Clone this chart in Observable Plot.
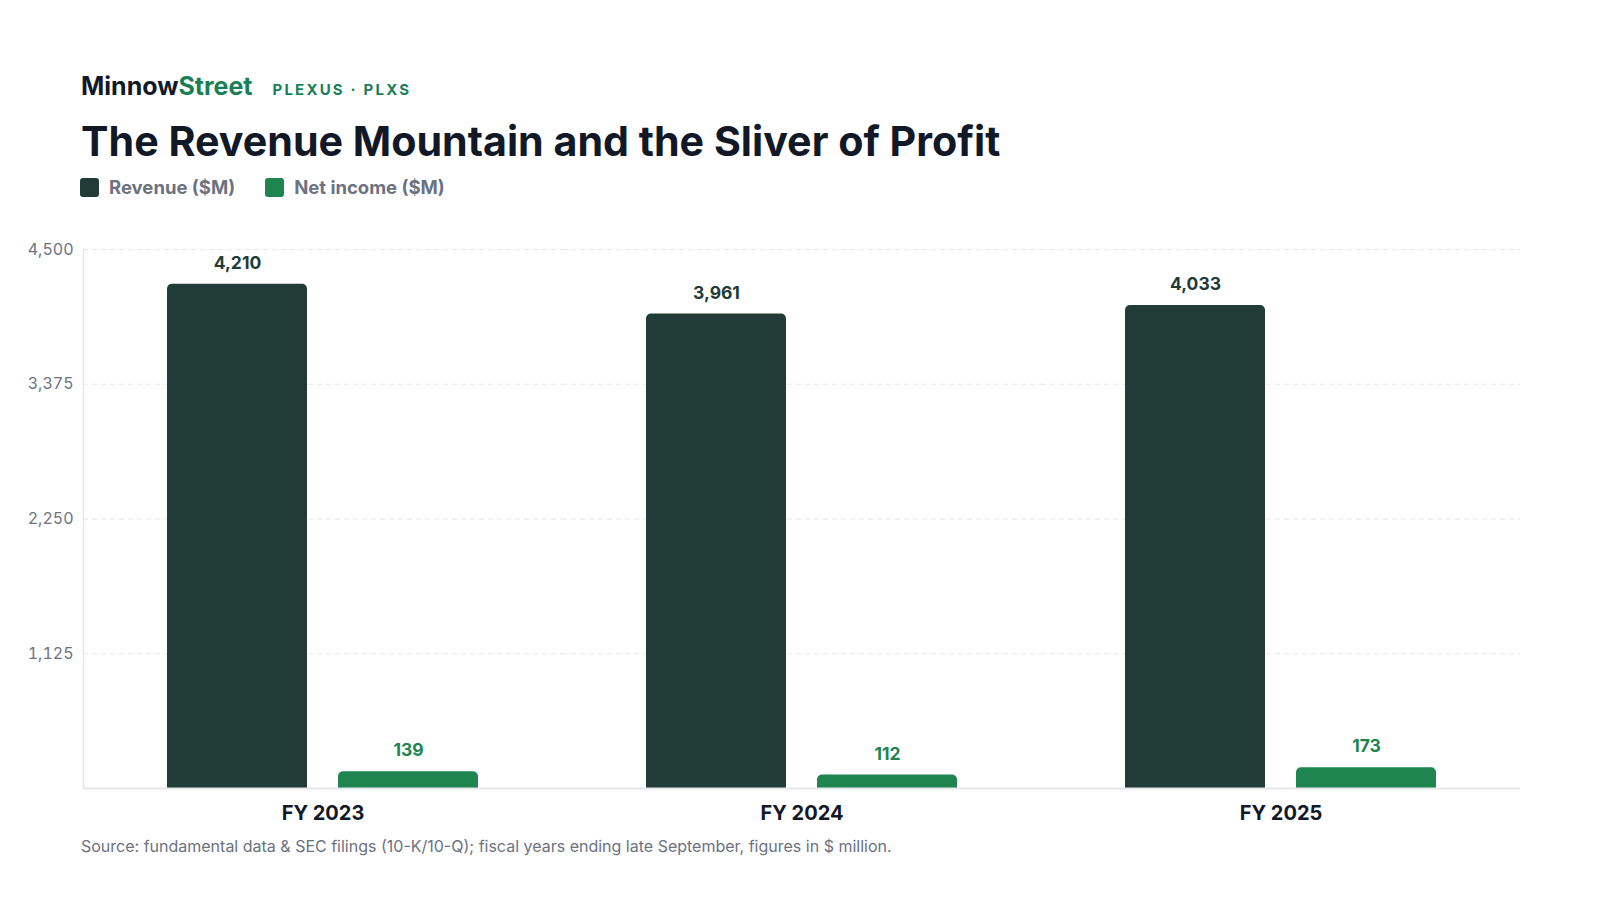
<!DOCTYPE html>
<html>
<head>
<meta charset="utf-8">
<script src="https://cdn.jsdelivr.net/npm/d3@7"></script>
<script src="https://cdn.jsdelivr.net/npm/@observablehq/plot@0.6"></script>
<style>
  html, body { margin: 0; padding: 0; background: #ffffff; }
  body { width: 1600px; height: 900px; font-family: Inter, "Helvetica Neue", Arial, sans-serif; position: relative; overflow: hidden; }
  .brand { position: absolute; left: 81px; top: 71px; height: 30px; line-height: 30px; white-space: nowrap; }
  .brand .m { font-size: 25px; font-weight: 700; color: #111827; }
  .brand .s { color: #1a7f56; }
  .brand .tk { font-size: 15px; font-weight: 700; color: #1a7f56; letter-spacing: 2.2px; margin-left: 20px; }
  .title { position: absolute; left: 81px; top: 116px; line-height: 50px; font-size: 41.2px; font-weight: 700; color: #111827; white-space: nowrap; }
  .legend { position: absolute; left: 80px; top: 174px; height: 26px; display: flex; align-items: center; gap: 30px; font-size: 18.5px; font-weight: 700; color: #6b7280; }
  .legend .item { display: flex; align-items: center; gap: 10px; }
  .legend .sw { width: 19px; height: 19px; border-radius: 3px; display: inline-block; }
  #chart { position: absolute; left: 0; top: 219px; }
  .source { position: absolute; left: 81px; top: 836px; line-height: 20px; font-size: 16px; color: #6b7280; white-space: nowrap; }
</style>
</head>
<body>
<div class="brand"><span class="m">Minnow<span class="s">Street</span></span><span class="tk">PLEXUS · PLXS</span></div>
<div class="title">The Revenue Mountain and the Sliver of Profit</div>
<div class="legend" id="legend"></div>
<div id="chart"></div>
<div class="source">Source: fundamental data &amp; SEC filings (10-K/10-Q); fiscal years ending late September, figures in $ million.</div>
<script>
const years = ["FY 2023", "FY 2024", "FY 2025"];
const seriesNames = ["Revenue ($M)", "Net income ($M)"];
const revenue = [4210, 3961, 4033];
const netIncome = [139, 112, 173];
const yTicks = [1125, 2250, 3375, 4500];
const seriesColors = ["#213b36", "#1e8450"];

const rows = years.flatMap((yr, i) => [
  {year: yr, series: seriesNames[0], value: revenue[i]},
  {year: yr, series: seriesNames[1], value: netIncome[i]}
]);

const legend = document.getElementById("legend");
seriesNames.forEach((s, i) => {
  const it = document.createElement("div");
  it.className = "item";
  const sw = document.createElement("span");
  sw.className = "sw";
  sw.style.background = seriesColors[i];
  const t = document.createElement("span");
  t.textContent = s;
  it.appendChild(sw); it.appendChild(t);
  legend.appendChild(it);
});

const fmt = d3.format(",");

const chart = Plot.plot({
  width: 1600,
  height: 619,
  marginLeft: 82,
  marginRight: 80,
  marginTop: 30,
  marginBottom: 50,
  style: {fontFamily: "Inter, 'Helvetica Neue', Arial, sans-serif", background: "transparent"},
  fx: {domain: years, padding: 0, label: null, axis: null},
  x: {domain: seriesNames, axis: null, paddingInner: 0.181, paddingOuter: 0.4885},
  y: {domain: [0, 4500], axis: null},
  color: {domain: seriesNames, range: seriesColors},
  marks: [
    Plot.gridY(yTicks, {stroke: "#e5e7eb", strokeOpacity: 1, strokeDasharray: "5,4"}),
    Plot.frame({anchor: "left", facetAnchor: "left", stroke: "#e5e7eb", strokeWidth: 1.5}),
    Plot.axisY(yTicks, {tickSize: 0, tickPadding: 10, tickFormat: fmt, fill: "#6b7280", fontSize: 16, label: null}),
    Plot.axisFx({anchor: "bottom", tickSize: 0, tickPadding: 17, fontSize: 20, fontWeight: 700, fill: "#111827", label: null}),
    Plot.barY(rows, {fx: "year", x: "series", y: "value", fill: "series", ry1: 5}),
    Plot.text(rows, {fx: "year", x: "series", y: "value", text: d => fmt(d.value), dy: -21, fill: "series", fontSize: 17.5, fontWeight: 700}),
    Plot.ruleY([0], {stroke: "#e5e7eb", strokeWidth: 2})
  ]
});
document.getElementById("chart").appendChild(chart);
</script>
</body>
</html>
